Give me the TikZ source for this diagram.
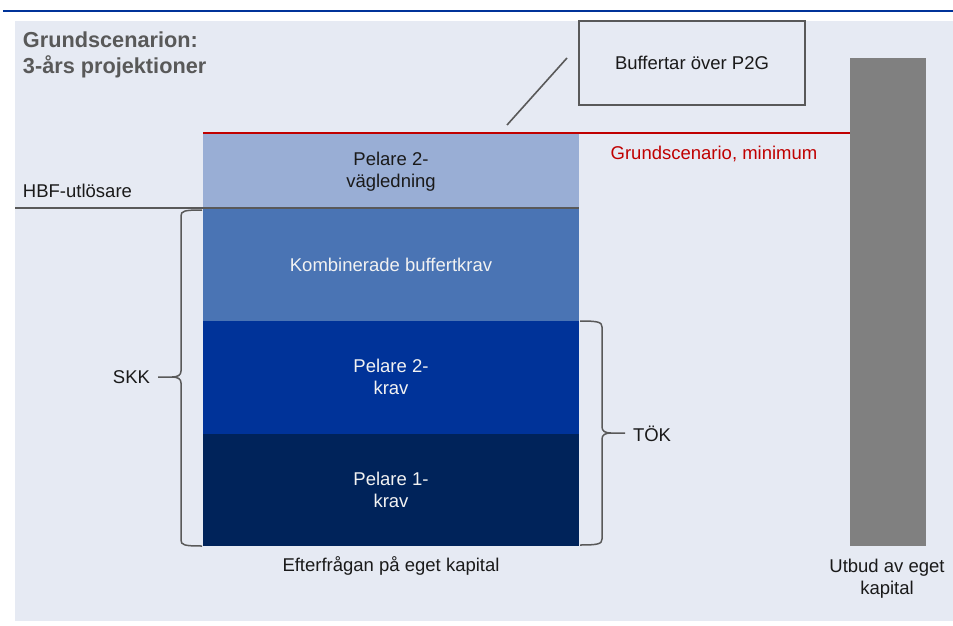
\documentclass[tikz,border=0pt]{standalone}
\usepackage{fontspec}
\setmainfont{Liberation Sans}
\begin{document}
\begin{tikzpicture}[x=1pt,y=-1pt,
  seg/.style={inner sep=0pt, outer sep=0pt, minimum width=376pt, align=center,
    font=\fontsize{18.5}{22}\selectfont},
  lbl/.style={inner sep=0pt, outer sep=0pt, text=txt, font=\fontsize{18.5}{22}\selectfont},
  ttl/.style={inner sep=0pt, outer sep=0pt, text=titlegray, font=\fontsize{21.7}{26}\selectfont\bfseries},
  grayline/.style={draw=linegray, line width=1.6pt},
  bracestyle/.style={draw=linegray, line width=1.5pt}
]
\definecolor{panel}{HTML}{E6EAF3}
\definecolor{topblue}{HTML}{003399}
\definecolor{cpg}{HTML}{99AED5}
\definecolor{ckbk}{HTML}{4A74B4}
\definecolor{cp2}{HTML}{003399}
\definecolor{cp1}{HTML}{00235A}
\definecolor{barg}{HTML}{808080}
\definecolor{linegray}{HTML}{595959}
\definecolor{titlegray}{HTML}{595959}
\definecolor{redline}{HTML}{C00000}
\definecolor{txt}{HTML}{1A1A1A}
\definecolor{wtxt}{HTML}{F2F2F2}

\useasboundingbox (0,0) rectangle (953,626);
\fill[white] (0,0) rectangle (953,626);
\fill[panel] (15,21) rectangle (953,621);
\draw[topblue, line width=2.5pt] (3,11) -- (953,11);

% titles
\node[ttl, anchor=base west] (t1) at (23,48) {Grundscenarion:};
\node[ttl, anchor=base west] (t2) at (23,74) {3-års projektioner};

% stacked bar
\node[seg, fill=cpg, minimum height=75pt, text=txt] (pg) at (391,170.5) {\strut Pelare 2-\\vägledning};
\node[seg, fill=ckbk, minimum height=113pt, text=wtxt] (kbk) at (391,264.5) {Kombinerade buffertkrav};
\node[seg, fill=cp2, minimum height=112.5pt, text=wtxt] (p2) at (391,377.25) {Pelare 2-\\krav};
\node[seg, fill=cp1, minimum height=112.5pt, text=wtxt] (p1) at (391,489.75) {Pelare 1-\\krav};

% supply bar
\node[fill=barg, inner sep=0pt, outer sep=0pt, minimum width=76pt, minimum height=488pt] (sup) at (888,302) {};

% lines
\coordinate (hbfL) at (15,208);
\draw[grayline] (hbfL) -- (kbk.north east);
\draw[redline, line width=2pt] (pg.north west) -- (sup.west |- pg.north);

% buffer box
\node[draw=linegray, line width=1.6pt, fill=panel, inner sep=0pt, minimum width=226pt, minimum height=84pt, lbl] (box) at (692,63) {Buffertar över P2G};
\coordinate (d1) at (507,125);
\coordinate (d2) at (567,58);
\draw[grayline] (d1) -- (d2);

% labels
\node[lbl, anchor=base west] (hbf) at (23,197) {HBF-utlösare};
\node[lbl, anchor=base, text=redline] (gsm) at (714,159) {Grundscenario, minimum};
\node[lbl, anchor=base] (eft) at (391,571) {Efterfrågan på eget kapital};
\node[lbl, anchor=base] (utb1) at (887,572) {Utbud av eget};
\node[lbl, anchor=base] (utb2) at (887,594) {kapital};

% SKK brace
\coordinate (s1) at (202,210);
\coordinate (s2) at (202,546);
\coordinate (stip) at (158,377);
\draw[bracestyle] (s1) .. controls (184,210) and (181,211) .. (181,216) -- (181,371)
  .. controls (181,375) and (178,377) .. (172,377) -- (stip);
\draw[bracestyle] (172,377) .. controls (178,377) and (181,379) .. (181,383) -- (181,540)
  .. controls (181,545) and (184,546) .. (s2);
\node[lbl, anchor=base east] (skk) at (150,383) {SKK};

% TÖK brace
\coordinate (k1) at (580,321);
\coordinate (k2) at (580,545);
\coordinate (ktip) at (625,433);
\draw[bracestyle] (k1) .. controls (598,321) and (602,322) .. (602,327) -- (602,427)
  .. controls (602,431) and (605,433) .. (611,433) -- (ktip);
\draw[bracestyle] (611,433) .. controls (605,433) and (602,435) .. (602,439) -- (602,539)
  .. controls (602,544) and (598,545) .. (k2);
\node[lbl, anchor=base west] (tok) at (633,441) {TÖK};
\end{tikzpicture}
\end{document}
